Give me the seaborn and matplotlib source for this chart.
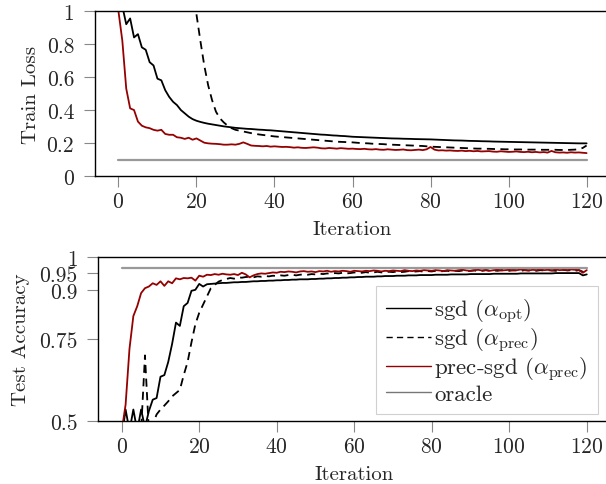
import numpy as np
import pandas as pd
import matplotlib
matplotlib.use("Agg")
import matplotlib.pyplot as plt
import seaborn as sns

# iterations 0..120
iters = list(range(121))

# train loss, sgd (alpha_opt)
loss_sgd_opt = [
    1.00, 1.03, 0.92, 0.955, 0.84, 0.86, 0.78, 0.765, 0.69, 0.67, 0.59,
    0.58, 0.52, 0.48, 0.45, 0.43, 0.40, 0.38, 0.36, 0.345, 0.335,
    0.328, 0.322, 0.317, 0.313, 0.309, 0.305, 0.301, 0.298, 0.295, 0.292,
    0.290, 0.288, 0.286, 0.285, 0.283, 0.281, 0.280, 0.278, 0.277, 0.275,
    0.273, 0.271, 0.269, 0.267, 0.265, 0.263, 0.261, 0.259, 0.257, 0.255,
    0.253, 0.251, 0.250, 0.248, 0.246, 0.245, 0.243, 0.242, 0.240, 0.238,
    0.237, 0.236, 0.235, 0.234, 0.233, 0.232, 0.231, 0.230, 0.229, 0.228,
    0.2275, 0.227, 0.226, 0.2255, 0.225, 0.224, 0.2235, 0.223, 0.2225, 0.222,
    0.221, 0.220, 0.219, 0.218, 0.217, 0.216, 0.2155, 0.215, 0.214, 0.213,
    0.2125, 0.212, 0.211, 0.2105, 0.210, 0.209, 0.2085, 0.208, 0.2075, 0.207,
    0.2065, 0.206, 0.2055, 0.205, 0.2045, 0.204, 0.2035, 0.203, 0.2025, 0.202,
    0.2015, 0.201, 0.2005, 0.200, 0.1995, 0.199, 0.1985, 0.198, 0.198, 0.198,
]

# train loss, sgd (alpha_prec) -- off the chart before iteration 20
loss_sgd_prec = [None] * 20 + [
    0.98, 0.82, 0.67, 0.55, 0.46, 0.39, 0.35, 0.325, 0.305, 0.29, 0.28,
    0.275, 0.27, 0.265, 0.26, 0.256, 0.252, 0.249, 0.246, 0.243, 0.24,
    0.238, 0.236, 0.234, 0.232, 0.23, 0.228, 0.226, 0.224, 0.222, 0.22,
    0.218, 0.216, 0.214, 0.212, 0.21, 0.208, 0.207, 0.206, 0.205, 0.204,
    0.202, 0.2, 0.199, 0.198, 0.196, 0.195, 0.194, 0.193, 0.191, 0.19,
    0.189, 0.188, 0.187, 0.186, 0.185, 0.184, 0.183, 0.182, 0.18, 0.178,
    0.177, 0.176, 0.175, 0.174, 0.173, 0.172, 0.171, 0.17, 0.169, 0.168,
    0.167, 0.166, 0.166, 0.165, 0.165, 0.164, 0.163, 0.163, 0.162, 0.162,
    0.161, 0.161, 0.161, 0.16, 0.16, 0.16, 0.16, 0.159, 0.159, 0.159,
    0.159, 0.159, 0.158, 0.158, 0.158, 0.159, 0.16, 0.163, 0.17, 0.185,
]

# train loss, prec-sgd (alpha_prec)
loss_prec_sgd = [
    1.00, 0.82, 0.53, 0.41, 0.40, 0.33, 0.305, 0.295, 0.29, 0.28, 0.275,
    0.28, 0.255, 0.25, 0.25, 0.235, 0.232, 0.225, 0.232, 0.22, 0.228,
    0.215, 0.202, 0.198, 0.196, 0.195, 0.193, 0.19, 0.19, 0.192, 0.19,
    0.195, 0.204, 0.195, 0.185, 0.183, 0.182, 0.18, 0.182, 0.178, 0.18,
    0.178, 0.176, 0.177, 0.175, 0.172, 0.174, 0.171, 0.17, 0.172, 0.174,
    0.172, 0.168, 0.167, 0.17, 0.168, 0.166, 0.169, 0.167, 0.165, 0.166,
    0.164, 0.163, 0.165, 0.162, 0.161, 0.163, 0.16, 0.159, 0.162, 0.16,
    0.158, 0.159, 0.161, 0.157, 0.156, 0.158, 0.16, 0.157, 0.162, 0.176,
    0.16, 0.155, 0.156, 0.154, 0.155, 0.153, 0.152, 0.154, 0.151, 0.153,
    0.15, 0.152, 0.149, 0.15, 0.151, 0.148, 0.147, 0.15, 0.148, 0.146,
    0.147, 0.149, 0.146, 0.145, 0.147, 0.144, 0.146, 0.143, 0.145, 0.142,
    0.152, 0.144, 0.142, 0.143, 0.141, 0.144, 0.142, 0.143, 0.141, 0.139,
]

# test accuracy, sgd (alpha_opt)
acc_sgd_opt = [
    0.45, 0.535, 0.47, 0.535, 0.47, 0.535, 0.48, 0.53, 0.565, 0.57,
    0.635, 0.64, 0.68, 0.735, 0.80, 0.79, 0.85, 0.86, 0.897, 0.90,
    0.918, 0.91, 0.917, 0.918, 0.919, 0.92, 0.921, 0.921, 0.922, 0.923,
    0.923, 0.924, 0.924, 0.925, 0.926, 0.926, 0.927, 0.927, 0.928, 0.928,
    0.929, 0.929, 0.93, 0.93, 0.931, 0.931, 0.932, 0.932, 0.932, 0.933,
    0.933, 0.934, 0.934, 0.935, 0.935, 0.936, 0.936, 0.937, 0.937, 0.938,
    0.938, 0.939, 0.939, 0.94, 0.94, 0.94, 0.941, 0.941, 0.942, 0.942,
    0.942, 0.943, 0.943, 0.943, 0.944, 0.944, 0.944, 0.945, 0.945, 0.945,
    0.945, 0.946, 0.946, 0.946, 0.946, 0.947, 0.947, 0.947, 0.947, 0.947,
    0.948, 0.948, 0.948, 0.948, 0.948, 0.948, 0.949, 0.949, 0.949, 0.949,
    0.949, 0.949, 0.949, 0.95, 0.95, 0.95, 0.95, 0.95, 0.95, 0.95,
    0.95, 0.95, 0.951, 0.951, 0.951, 0.951, 0.951, 0.951, 0.951, 0.944, 0.947,
]

# test accuracy, sgd (alpha_prec)
acc_sgd_prec = [
    0.45, 0.45, 0.45, 0.45, 0.45, 0.47, 0.70, 0.47, 0.49, 0.52,
    0.535, 0.547, 0.56, 0.575, 0.585, 0.595, 0.64, 0.68, 0.74, 0.795,
    0.83, 0.855, 0.88, 0.905, 0.915, 0.925, 0.93, 0.933, 0.936, 0.934,
    0.938, 0.937, 0.939, 0.94, 0.938, 0.941, 0.94, 0.942, 0.941, 0.943,
    0.942, 0.944, 0.943, 0.945, 0.946, 0.944, 0.946, 0.947, 0.946, 0.948,
    0.947, 0.949, 0.948, 0.95, 0.949, 0.951, 0.95, 0.952, 0.95, 0.951,
    0.953, 0.951, 0.952, 0.954, 0.952, 0.953, 0.955, 0.953, 0.954, 0.955,
    0.954, 0.956, 0.954, 0.955, 0.957, 0.955, 0.956, 0.957, 0.955, 0.957,
    0.956, 0.958, 0.956, 0.957, 0.958, 0.956, 0.958, 0.957, 0.959, 0.957,
    0.958, 0.959, 0.957, 0.958, 0.96, 0.958, 0.959, 0.958, 0.96, 0.959,
    0.958, 0.96, 0.959, 0.958, 0.96, 0.959, 0.96, 0.958, 0.96, 0.959,
    0.96, 0.959, 0.958, 0.96, 0.961, 0.959, 0.96, 0.958, 0.96, 0.955, 0.945,
]

# test accuracy, prec-sgd (alpha_prec)
acc_prec_sgd = [
    0.47, 0.55, 0.72, 0.82, 0.85, 0.89, 0.905, 0.91, 0.92, 0.915,
    0.926, 0.912, 0.926, 0.92, 0.935, 0.932, 0.936, 0.935, 0.937, 0.928,
    0.943, 0.94, 0.946, 0.945, 0.948, 0.946, 0.949, 0.947, 0.946, 0.948,
    0.945, 0.952, 0.947, 0.938, 0.944, 0.948, 0.95, 0.949, 0.951, 0.953,
    0.952, 0.955, 0.954, 0.956, 0.955, 0.953, 0.956, 0.957, 0.955, 0.956,
    0.954, 0.957, 0.956, 0.958, 0.955, 0.957, 0.956, 0.958, 0.957, 0.955,
    0.958, 0.957, 0.956, 0.958, 0.957, 0.959, 0.958, 0.956, 0.958, 0.957,
    0.959, 0.958, 0.957, 0.96, 0.958, 0.957, 0.959, 0.958, 0.96, 0.959,
    0.958, 0.96, 0.959, 0.957, 0.96, 0.959, 0.958, 0.96, 0.961, 0.959,
    0.958, 0.96, 0.961, 0.959, 0.96, 0.958, 0.96, 0.961, 0.959, 0.96,
    0.961, 0.959, 0.96, 0.962, 0.96, 0.959, 0.961, 0.96, 0.962, 0.96,
    0.961, 0.959, 0.962, 0.96, 0.961, 0.96, 0.962, 0.961, 0.96, 0.952, 0.96,
]

oracle_loss = 0.097
oracle_acc = 0.965

loss_ticks = [0, 0.2, 0.4, 0.6, 0.8, 1]
acc_ticks = [0.5, 0.75, 0.9, 0.95, 1]
iter_ticks = [0, 20, 40, 60, 80, 100, 120]

labels = [r"sgd ($\alpha_{\rm opt}$)", r"sgd ($\alpha_{\rm prec}$)",
          r"prec-sgd ($\alpha_{\rm prec}$)", "oracle"]

sns.set_theme(style="ticks")
plt.rcParams["font.family"] = "serif"
plt.rcParams["font.serif"] = ["cmr10", "DejaVu Serif"]
plt.rcParams["mathtext.fontset"] = "cm"
plt.rcParams["axes.formatter.use_mathtext"] = True
plt.rcParams["axes.unicode_minus"] = False

DARK_RED = "#950000"
GRAY = "#999999"
FS = 15.5      # tick labels
LFS = 15       # axis labels
LEG_FS = 16.5  # legend

df_loss = pd.DataFrame({"iter": iters, "opt": loss_sgd_opt,
                        "prec": pd.to_numeric(pd.Series(loss_sgd_prec), errors="coerce"),
                        "psgd": loss_prec_sgd,
                        "oracle": np.full(len(iters), oracle_loss)})
df_acc = pd.DataFrame({"iter": iters, "opt": acc_sgd_opt, "prec": acc_sgd_prec,
                       "psgd": acc_prec_sgd,
                       "oracle": np.full(len(iters), oracle_acc)})

fig = plt.figure(figsize=(6.06, 4.85), dpi=100)
ax1 = fig.add_axes([0.1568, 0.635, 0.8498, 0.3402])
ax2 = fig.add_axes([0.1625, 0.1299, 0.8441, 0.3381])


def draw(ax, df):
    sns.lineplot(data=df, x="iter", y="opt", ax=ax, color="black", lw=1.3, label=labels[0])
    sns.lineplot(data=df, x="iter", y="prec", ax=ax, color="black", lw=1.3,
                 label=labels[1]).lines[-1].set_dashes((4.5, 3))
    sns.lineplot(data=df, x="iter", y="psgd", ax=ax, color=DARK_RED, lw=1.3, label=labels[2])
    sns.lineplot(data=df, x="iter", y="oracle", ax=ax, color=GRAY, lw=1.6, label=labels[3])
    ax.set_xlim(-6, 126)
    ax.set_xticks(iter_ticks)
    ax.set_xlabel("Iteration", fontsize=LFS, labelpad=7)
    for s in ax.spines.values():
        s.set_color("black")
        s.set_linewidth(1.0)
    ax.tick_params(direction="out", length=8, width=0.8, color="#888888",
                   labelsize=FS)
    ax.tick_params(axis="x", pad=3)
    ax.tick_params(axis="y", pad=7)


draw(ax1, df_loss)
ax1.set_ylim(0, 1)
ax1.set_yticks(loss_ticks)
ax1.set_yticklabels(["0", "0.2", "0.4", "0.6", "0.8", "1"])
ax1.set_ylabel("Train Loss", fontsize=LFS)
ax1.yaxis.set_label_coords(-0.106, 0.5)
ax1.get_legend().remove()

draw(ax2, df_acc)
ax2.set_ylim(0.5, 1)
ax2.set_yticks(acc_ticks)
ax2.set_yticklabels(["0.5", "0.75", "0.9", "0.95", "1"])
ax2.set_ylabel("Test Accuracy", fontsize=LFS)
ax2.yaxis.set_label_coords(-0.133, 0.5)
leg = ax2.legend(loc="lower right", bbox_to_anchor=(0.977, 0.043), borderaxespad=0,
                 fontsize=LEG_FS, frameon=True, fancybox=False, framealpha=1,
                 edgecolor="#d0d0d0", handlelength=1.95, borderpad=0.45,
                 labelspacing=0.04, handletextpad=0.15)
leg.get_frame().set_linewidth(0.8)
for h in leg.get_lines():
    h.set_linewidth(1.0)
leg.get_lines()[1].set_dashes((4.5, 3))
leg.get_lines()[3].set_color("#777777")

fig.savefig("out.png", dpi=100)
